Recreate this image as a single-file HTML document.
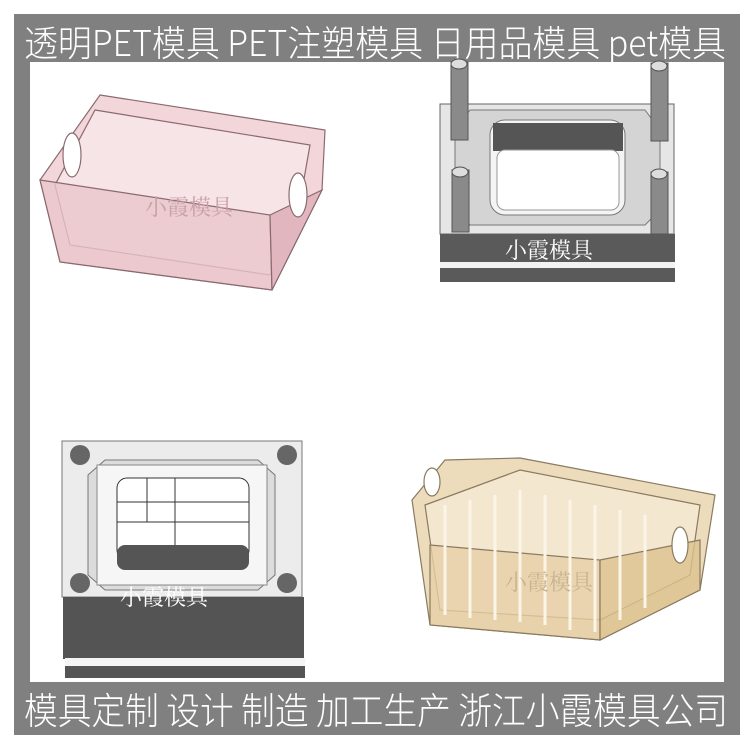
<!DOCTYPE html>
<html><head><meta charset="utf-8"><style>
html,body{margin:0;padding:0;background:#fff;}
body{width:750px;height:750px;position:relative;overflow:hidden;}
</style></head><body>
<svg width="750" height="750" style="position:absolute;left:0;top:0">
<rect x="14" y="14" width="726" height="721" fill="#808080"/>
<rect x="30" y="62" width="694" height="620" fill="#fff"/>
<text x="24" y="56" font-size="36" fill="#fff" font-family="Noto Sans CJK SC,sans-serif" font-weight="300" textLength="702" lengthAdjust="spacingAndGlyphs">透明PET模具 PET注塑模具 日用品模具 pet模具</text>
<text x="24" y="724" font-size="37" fill="#fff" font-family="Noto Sans CJK SC,sans-serif" font-weight="300" textLength="704" lengthAdjust="spacingAndGlyphs">模具定制 设计 制造 加工生产 浙江小霞模具公司</text>
<!-- pink basket -->
<g stroke="#8a6a70" stroke-width="1.2">
<polygon points="100,95 325,130 322,190 272,290 60,262 40,180" fill="#f2d6da"/>
<polygon points="95,110 310,145 295,230 270,275 70,245 55,185" fill="#f7e4e6"/>
<polygon points="40,180 270,215 272,290 60,262" fill="#e9c5cb" fill-opacity="0.8"/>
<polygon points="270,215 322,190 272,290" fill="#e2b6be"/>
<ellipse cx="72" cy="155" rx="9" ry="22" fill="#fff"/>
<ellipse cx="298" cy="195" rx="9" ry="22" fill="#fff"/>
</g>
<text x="145" y="215" font-size="22" fill="#c8a0a8" font-family="Noto Serif CJK SC,serif">小霞模具</text>
<!-- top right mold -->
<rect x="440" y="104" width="234" height="130" fill="#e6e6e6" stroke="#666"/>
<rect x="440" y="234" width="235" height="30" fill="#5a5a5a"/>
<rect x="440" y="262" width="235" height="6" fill="#f2f2f2"/>
<rect x="440" y="268" width="235" height="14" fill="#5a5a5a"/>
<polygon points="470,110 645,110 660,130 660,210 645,225 470,225 455,210 455,130" fill="#d4d4d4" stroke="#777"/>
<rect x="490" y="120" width="135" height="95" rx="15" fill="#f4f4f4" stroke="#777"/>
<rect x="493" y="123" width="130" height="28" fill="#555"/>
<rect x="497" y="150" width="122" height="60" rx="8" fill="#fff" stroke="#999"/>
<g fill="#8a8a8a" stroke="#555">
<rect x="451" y="62" width="17" height="78"/><rect x="651" y="63" width="17" height="78"/>
<rect x="452" y="170" width="17" height="62"/><rect x="651" y="172" width="17" height="62"/>
</g>
<g fill="#ddd" stroke="#555"><ellipse cx="459" cy="64" rx="8" ry="5"/><ellipse cx="659" cy="66" rx="8" ry="5"/><ellipse cx="460" cy="172" rx="8" ry="5"/><ellipse cx="659" cy="174" rx="8" ry="5"/></g>
<text x="505" y="258" font-size="22" fill="#fff" font-family="Noto Serif CJK SC,serif">小霞模具</text>
<!-- bottom left mold -->
<rect x="62" y="441" width="240" height="156" fill="#ececec" stroke="#777"/>
<polygon points="105,460 258,460 275,475 275,575 258,590 105,590 88,575 88,475" fill="#dcdcdc" stroke="#777"/>
<rect x="97" y="465" width="170" height="120" fill="#f6f6f6" stroke="#888"/>
<rect x="117" y="478" width="132" height="82" rx="10" fill="#fff" stroke="#333"/>
<rect x="117" y="545" width="132" height="25" rx="8" fill="#555"/>
<path d="M117,502 H249 M147,478 V522 M175,478 V545 M117,522 H249" stroke="#333" fill="none"/>
<g fill="#666"><circle cx="80" cy="455" r="10"/><circle cx="287" cy="455" r="10"/><circle cx="80" cy="583" r="10"/><circle cx="287" cy="583" r="10"/></g>
<rect x="63" y="597" width="241" height="62" fill="#545454"/>
<rect x="65" y="658" width="240" height="8" fill="#f4f4f4"/>
<rect x="65" y="666" width="240" height="12" fill="#545454"/>
<text x="120" y="605" font-size="22" fill="#fff" font-family="Noto Serif CJK SC,serif">小霞模具</text>
<!-- beige basket -->
<g stroke="#8a7a60" stroke-width="1.2">
<polygon points="412,500 445,460 520,458 715,495 700,590 600,640 430,625" fill="#ecdcbc"/>
<polygon points="425,505 520,470 700,505 690,575 600,620 440,610" fill="#f3e7cf"/>
<polygon points="430,545 600,560 600,640 430,625" fill="#e6d0a6" fill-opacity="0.8"/>
<polygon points="600,560 700,540 700,590 600,640" fill="#dcc28e" fill-opacity="0.8"/>
<ellipse cx="432" cy="482" rx="8" ry="14" fill="#fff"/>
<ellipse cx="680" cy="545" rx="8" ry="18" fill="#fff"/>
</g>
<g stroke="#fbf5e8" stroke-width="3">
<line x1="445" y1="505" x2="445" y2="615"/><line x1="470" y1="500" x2="470" y2="618"/><line x1="495" y1="495" x2="495" y2="620"/><line x1="520" y1="490" x2="520" y2="622"/><line x1="545" y1="495" x2="545" y2="625"/><line x1="570" y1="500" x2="570" y2="630"/><line x1="595" y1="505" x2="595" y2="632"/><line x1="620" y1="510" x2="620" y2="620"/><line x1="645" y1="515" x2="645" y2="608"/>
</g>
<text x="505" y="590" font-size="22" fill="#c8b490" font-family="Noto Serif CJK SC,serif">小霞模具</text>
</svg>
</body></html>
